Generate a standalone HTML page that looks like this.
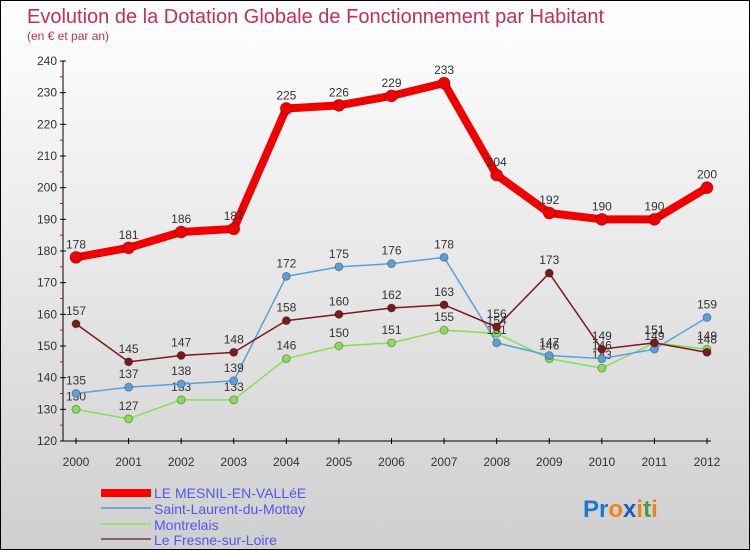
<!DOCTYPE html>
<html><head><meta charset="utf-8"><style>
body{margin:0}
#c{position:relative;width:748px;height:548px;border:1px solid #000;background:linear-gradient(#ffffff,#cfcfcf);overflow:hidden;font-family:"Liberation Sans",sans-serif}
</style></head><body>
<div id="c">
<svg id="s" width="748" height="548" style="position:absolute;left:0;top:0">
<text x="26" y="22" font-size="20" fill="#c0305a">Evolution de la Dotation Globale de Fonctionnement par Habitant</text>
<text x="26" y="39" font-size="12" fill="#c0305a">(en € et par an)</text>
<g id="axes"></g><g id="series"></g>
<g>
<rect x="100" y="488" width="50" height="8" fill="#f00"/>
<text x="153" y="497" font-size="14" fill="#5555ee">LE MESNIL-EN-VALLéE</text>
<rect x="100" y="506" width="50" height="2" fill="#6fa8d8"/>
<text x="153" y="513" font-size="14" fill="#5555ee">Saint-Laurent-du-Mottay</text>
<rect x="100" y="522" width="50" height="2" fill="#98e080"/>
<text x="153" y="529" font-size="14" fill="#5555ee">Montrelais</text>
<rect x="100" y="537" width="50" height="2" fill="#8a6060"/>
<text x="153" y="544" font-size="14" fill="#5555ee">Le Fresne-sur-Loire</text>
</g>
<text x="582" y="516" font-size="24" font-weight="bold"><tspan fill="#1a7ad0">Pr</tspan><tspan fill="#f08020">o</tspan><tspan fill="#1a5fc0">x</tspan><tspan fill="#f08020">i</tspan><tspan fill="#40a040">t</tspan><tspan fill="#f08020">i</tspan></text>
</svg></div>
<script>
const years=[2000,2001,2002,2003,2004,2005,2006,2007,2008,2009,2010,2011,2012];
const mesnil=[178,181,186,187,225,226,229,233,204,192,190,190,200];
const stLaurent=[135,137,138,139,172,175,176,178,151,147,146,149,159];
const montrelais=[130,127,133,133,146,150,151,155,154,146,143,151,149];
const fresne=[157,145,147,148,158,160,162,163,156,173,149,151,148];
const yTicks=[120,130,140,150,160,170,180,190,200,210,220,230,240];
const NS="http://www.w3.org/2000/svg";
function X(i){return 75+i*(706-75)/(years.length-1);}
function Y(v){return 440-(v-120)*(380/120);}
function mk(t,a,p){const e=document.createElementNS(NS,t);for(const k in a)e.setAttribute(k,a[k]);p.appendChild(e);return e;}
const ax=document.getElementById('axes'),sg=document.getElementById('series');
let l=mk('line',{x1:62,y1:60,x2:62,y2:440,stroke:'#000'},ax);


l=mk('line',{x1:62,y1:440,x2:710,y2:440,stroke:'#000'},ax);


yTicks.forEach(v=>{
 mk('line',{x1:59,y1:Y(v),x2:65,y2:Y(v),stroke:'#000'},ax);
 if(v<240)mk('line',{x1:59,y1:Y(v+5),x2:62,y2:Y(v+5),stroke:'#f00'},ax);
 const t=mk('text',{x:56,y:Y(v)+4,'font-size':12,'text-anchor':'end',fill:'#333'},ax);
 t.textContent=v;
 
 
});
years.forEach((y,i)=>{
 mk('line',{x1:X(i),y1:437,x2:X(i),y2:443,stroke:'#000'},ax);
 const t=mk('text',{x:X(i),y:465,'font-size':12,'text-anchor':'middle',fill:'#333'},ax);
 t.textContent=y;
 
 
});
function series(data,color,w,r,name){
 const g=mk('g',{},sg);
 
 
 mk('polyline',{points:data.map((v,i)=>X(i)+','+Y(v)).join(' '),fill:'none',stroke:color,'stroke-width':w,'stroke-linejoin':'round'},g);
 data.forEach((v,i)=>{
  const c=mk('circle',{cx:X(i),cy:Y(v),r:r,fill:color,stroke:'rgba(0,0,0,0.3)'},g);
  
  
  const t=mk('text',{x:X(i),y:Y(v)-9,'font-size':12,'text-anchor':'middle',fill:'#333'},g);
  t.textContent=v;
 });
}
series(montrelais,'#88dd55',1.5,4,'montrelais');
series(stLaurent,'#5b9fd8',1.5,4,'saint-laurent');
series(fresne,'#7a1a1a',1.5,4,'fresne');
series(mesnil,'#f00000',8,6,'mesnil');
</script>
</body></html>
